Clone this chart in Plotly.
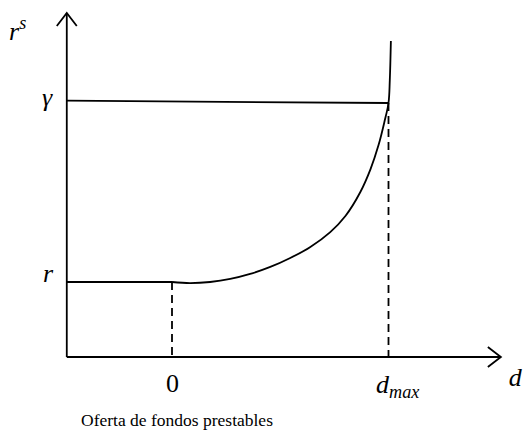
import plotly.graph_objects as go

# --- data (conceptual units: d in units of d_max, rate in units where r=1, gamma=2) ---
curve_d = [0.0, 0.083, 0.176, 0.269, 0.361, 0.454, 0.546, 0.639, 0.731, 0.801, 0.870,
           0.917, 0.954, 0.981, 1.0, 1.006, 1.011]
curve_r = [1.0, 0.994, 1.0, 1.017, 1.045, 1.084, 1.134, 1.196, 1.279, 1.369, 1.503,
           1.631, 1.765, 1.894, 2.0, 2.128, 2.346]
r_level = 1.0
gamma_level = [2.013, 2.0]
d_zero = 0.0
d_max = 1.0
axis_x0 = -0.486
axis_y0 = 0.581
axis_x_tip = 1.519
axis_y_tip = 2.503

W, H = 526, 433
x_range = [-172 / 216.5, (526 - 172) / 216.5]
y_range = [1 - (433 - 282) / 179, 1 + 282 / 179]
sx = W / (x_range[1] - x_range[0])
sy = H / (y_range[1] - y_range[0])

black = "#000000"
LW = 1.8
fig = go.Figure()

def line(xs, ys, dash="solid", width=LW, shape="linear"):
    fig.add_trace(go.Scatter(x=xs, y=ys, mode="lines", showlegend=False, hoverinfo="skip",
                             line=dict(color=black, width=width, dash=dash, shape=shape)))

# axes
line([axis_x0, axis_x_tip], [axis_y0, axis_y0])
line([axis_x0, axis_x0], [axis_y0, axis_y_tip])
# arrowheads (open chevrons), sizes in px converted to units
ah_back, ah_side = 13, 10
line([axis_x_tip - ah_back / sx, axis_x_tip, axis_x_tip - ah_back / sx],
     [axis_y0 + ah_side / sy, axis_y0, axis_y0 - ah_side / sy])
line([axis_x0 - ah_side / sx, axis_x0, axis_x0 + ah_side / sx],
     [axis_y_tip - ah_back / sy, axis_y_tip, axis_y_tip - ah_back / sy])

# r level line
line([axis_x0, d_zero], [r_level, r_level])
# gamma line
line([axis_x0, d_max], gamma_level)
# supply curve
line(curve_d, curve_r, shape="spline")
# dashed guides
line([d_zero, d_zero], [r_level, axis_y0], dash="8px,5px")
line([d_max, d_max], [gamma_level[1], axis_y0], dash="8px,5px")

font_math = dict(family="Liberation Serif, DejaVu Serif, serif", size=26, color=black)
font_txt = dict(family="Liberation Serif, DejaVu Serif, serif", size=17.5, color=black)

def ann(x, y, text, xanchor="center", yanchor="middle", xshift=0, yshift=0, font=font_math):
    fig.add_annotation(x=x, y=y, xref="x", yref="y", text=text, showarrow=False,
                       xanchor=xanchor, yanchor=yanchor, xshift=xshift, yshift=yshift, font=font)

ann(axis_x0, axis_y_tip, "<i>r</i><sup><i>s</i></sup>", xanchor="right", xshift=-39, yshift=-17)
ann(axis_x0, gamma_level[0], "<i>γ</i>", xanchor="right", xshift=-12, yshift=3)
ann(axis_x0, r_level, "<i>r</i>", xanchor="right", xshift=-11, yshift=9)
ann(d_zero, axis_y0, "0", yshift=-26)
ann(d_max, axis_y0, "<i>d</i><sub><i>max</i></sub>", xshift=9, yshift=-29)
# axis name as a text trace, offset below-right of the arrow tip
fig.add_trace(go.Scatter(x=[axis_x_tip + 8 / sx], y=[axis_y0 - 22 / sy], mode="text",
                         text=["<i>d</i>"], textposition="middle right", textfont=font_math,
                         cliponaxis=False, showlegend=False, hoverinfo="skip"))

fig.add_annotation(x=177 / W, y=1 - 420 / H, xref="paper", yref="paper",
                   showarrow=False, text="Oferta de fondos prestables", font=font_txt,
                   xanchor="center", yanchor="middle")

fig.update_layout(width=W, height=H, margin=dict(l=0, r=0, t=0, b=0),
                  plot_bgcolor="white", paper_bgcolor="white", hovermode=False,
                  xaxis=dict(range=x_range, visible=False, fixedrange=True),
                  yaxis=dict(range=y_range, visible=False, fixedrange=True))
fig.write_html("out.html", config={"displayModeBar": False},
               post_script="document.body.style.margin='0';document.body.style.overflow='hidden';")
